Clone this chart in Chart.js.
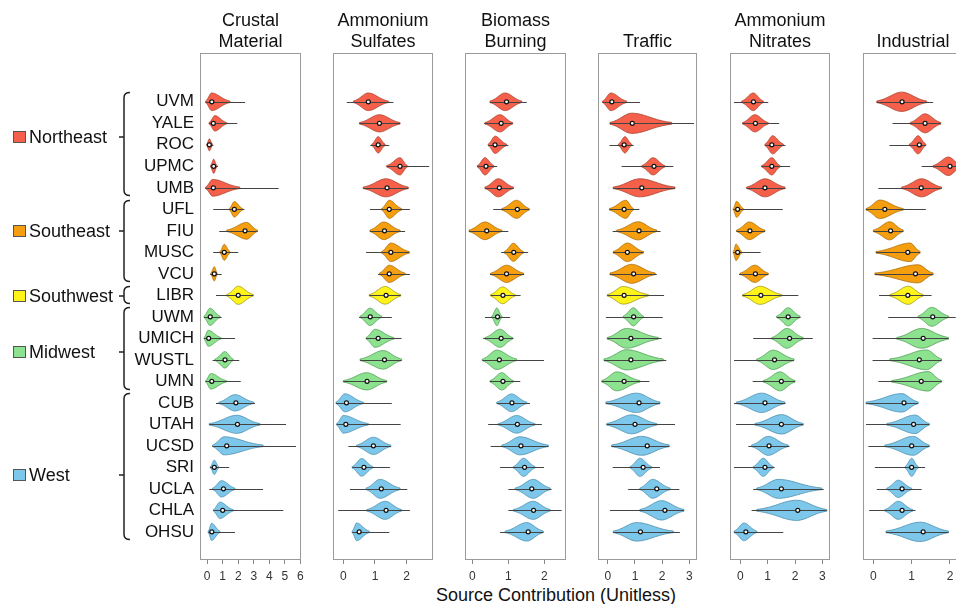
<!DOCTYPE html>
<html>
<head>
<meta charset="utf-8">
<script src="https://cdn.jsdelivr.net/npm/chart.js@4.4.1/dist/chart.umd.min.js"></script>
<style>
  body { margin: 0; width: 956px; height: 604px; overflow: hidden; background: #fff; position: relative;
         font-family: "Liberation Sans", Arial, sans-serif; }
  canvas { position: absolute; top: 0; }
  #xtitle { position: absolute; left: 356px; width: 400px; top: 585px; text-align: center;
            font-size: 18px; line-height: 20px; color: #111; }
</style>
</head>
<body>
<div id="xtitle">Source Contribution (Unitless)</div>
<script>
var sites = ["UVM", "YALE", "ROC", "UPMC", "UMB", "UFL", "FIU", "MUSC", "VCU", "LIBR", "UWM",
             "UMICH", "WUSTL", "UMN", "CUB", "UTAH", "UCSD", "SRI", "UCLA", "CHLA", "OHSU"];
var regions = ["Northeast", "Southeast", "Southwest", "Midwest", "West"];
var siteRegion = [0, 0, 0, 0, 0, 1, 1, 1, 1, 2, 3, 3, 3, 3, 4, 4, 4, 4, 4, 4, 4];
var sources = [["Crustal", "Material"], ["Ammonium", "Sulfates"], ["Biomass", "Burning"],
               ["Traffic"], ["Ammonium", "Nitrates"], ["Industrial"]];

var ticksCrustal = [0, 1, 2, 3, 4, 5, 6];
var ticksSulfates = [0, 1, 2];
var ticksBiomass = [0, 1, 2];
var ticksTraffic = [0, 1, 2, 3];
var ticksNitrates = [0, 1, 2, 3];
var ticksIndustrial = [0, 1, 2];

// each row: [tail low, body low, mode, body high, tail high, median, peak density (half width, rows)]
var crustal = [
    [-0.1, -0.1, 0.29, 1.47, 2.44, 0.3, 0.41],
    [0.12, 0.12, 0.5, 1.26, 1.94, 0.4, 0.36],
    [0.0, -0.03, 0.14, 0.35, 0.4, 0.14, 0.28],
    [0.22, 0.22, 0.42, 0.63, 0.7, 0.42, 0.33],
    [-0.1, -0.1, 0.35, 2.1, 4.6, 0.4, 0.39],
    [0.39, 1.42, 1.75, 2.29, 2.4, 1.75, 0.36],
    [0.78, 1.26, 2.55, 3.23, 3.25, 2.44, 0.39],
    [0.39, 0.82, 1.1, 1.47, 2.0, 1.1, 0.37],
    [0.2, 0.23, 0.46, 0.65, 0.93, 0.46, 0.33],
    [0.57, 1.26, 2.0, 2.97, 2.97, 2.0, 0.42],
    [-0.2, -0.2, 0.18, 0.83, 0.93, 0.2, 0.4],
    [-0.2, -0.2, 0.07, 0.9, 1.8, 0.1, 0.37],
    [0.35, 0.5, 1.15, 1.68, 2.07, 1.15, 0.38],
    [-0.1, -0.1, 0.23, 1.25, 2.16, 0.3, 0.36],
    [0.57, 0.75, 1.79, 3.0, 3.08, 1.85, 0.38],
    [0.14, 0.14, 1.9, 3.4, 5.08, 1.95, 0.42],
    [0.35, 0.35, 1.1, 3.6, 5.72, 1.26, 0.42],
    [0.18, 0.2, 0.46, 0.75, 1.42, 0.46, 0.33],
    [0.14, 0.35, 0.93, 1.79, 3.6, 1.05, 0.38],
    [0.4, 0.4, 0.82, 1.68, 4.9, 1.0, 0.38],
    [0.07, 0.07, 0.29, 0.82, 1.79, 0.3, 0.4]
];
var sulfates = [
    [0.11, 0.32, 0.79, 1.42, 1.58, 0.79, 0.41],
    [0.51, 0.51, 1.14, 1.79, 1.79, 1.14, 0.4],
    [0.85, 0.9, 1.1, 1.32, 1.45, 1.1, 0.38],
    [1.37, 1.37, 1.79, 2.02, 2.71, 1.79, 0.4],
    [0.63, 0.63, 1.35, 2.05, 2.05, 1.38, 0.42],
    [0.84, 1.21, 1.45, 1.84, 2.1, 1.45, 0.42],
    [0.84, 0.84, 1.28, 1.79, 1.95, 1.3, 0.41],
    [0.72, 1.21, 1.5, 2.08, 2.08, 1.5, 0.43],
    [1.1, 1.14, 1.45, 1.95, 2.1, 1.45, 0.4],
    [0.82, 0.82, 1.32, 1.81, 1.81, 1.35, 0.41],
    [0.5, 0.53, 0.84, 1.21, 1.53, 0.85, 0.4],
    [0.72, 0.72, 1.0, 1.6, 1.84, 1.1, 0.42],
    [0.53, 0.53, 1.26, 1.84, 1.84, 1.3, 0.43],
    [0.0, 0.0, 0.74, 1.37, 1.37, 0.75, 0.4],
    [-0.23, -0.23, 0.05, 0.63, 1.53, 0.1, 0.42],
    [-0.21, -0.21, 0.0, 0.79, 1.81, 0.08, 0.41],
    [0.16, 0.42, 0.95, 1.5, 1.5, 0.95, 0.4],
    [0.28, 0.28, 0.58, 0.93, 1.47, 0.65, 0.41],
    [0.21, 0.72, 1.16, 1.79, 2.02, 1.2, 0.44],
    [-0.16, 0.74, 1.32, 1.84, 2.1, 1.35, 0.42],
    [0.28, 0.28, 0.42, 0.82, 1.45, 0.5, 0.41]
];
var biomass = [
    [0.49, 0.49, 0.91, 1.37, 1.51, 0.95, 0.41],
    [0.33, 0.35, 0.77, 1.12, 1.12, 0.8, 0.4],
    [0.44, 0.44, 0.63, 0.95, 1.0, 0.63, 0.4],
    [0.14, 0.14, 0.35, 0.6, 0.69, 0.38, 0.4],
    [0.35, 0.35, 0.72, 1.14, 1.14, 0.75, 0.42],
    [0.58, 0.82, 1.23, 1.58, 1.58, 1.25, 0.42],
    [-0.09, -0.09, 0.35, 0.82, 1.0, 0.4, 0.41],
    [0.8, 0.89, 1.14, 1.42, 1.55, 1.15, 0.42],
    [0.49, 0.51, 0.95, 1.42, 1.44, 0.95, 0.4],
    [0.51, 0.51, 0.84, 1.19, 1.34, 0.85, 0.39],
    [0.35, 0.54, 0.68, 0.82, 1.05, 0.7, 0.41],
    [0.3, 0.35, 0.77, 1.12, 1.14, 0.8, 0.42],
    [0.28, 0.28, 0.68, 1.23, 1.99, 0.75, 0.45],
    [0.49, 0.49, 0.82, 1.14, 1.33, 0.85, 0.4],
    [0.68, 0.68, 1.09, 1.51, 1.6, 1.1, 0.41],
    [0.44, 0.72, 1.23, 1.74, 1.93, 1.25, 0.41],
    [0.51, 0.82, 1.32, 2.11, 2.11, 1.35, 0.42],
    [0.77, 1.14, 1.42, 1.74, 1.99, 1.45, 0.42],
    [1.0, 1.19, 1.69, 2.16, 2.2, 1.65, 0.44],
    [1.0, 1.14, 1.69, 2.16, 2.48, 1.7, 0.42],
    [0.77, 0.91, 1.51, 1.97, 1.97, 1.55, 0.43]
];
var traffic = [
    [-0.19, -0.19, 0.11, 0.69, 1.18, 0.15, 0.41],
    [0.08, 0.08, 0.88, 2.35, 3.17, 0.9, 0.47],
    [0.06, 0.39, 0.63, 0.88, 0.95, 0.6, 0.38],
    [0.51, 1.25, 1.67, 2.1, 2.41, 1.7, 0.4],
    [0.2, 0.2, 1.18, 2.47, 2.47, 1.25, 0.42],
    [0.06, 0.06, 0.67, 0.94, 1.16, 0.6, 0.42],
    [0.18, 0.33, 1.12, 1.8, 1.94, 1.15, 0.42],
    [0.2, 0.2, 0.72, 1.31, 1.31, 0.72, 0.43],
    [0.08, 0.08, 0.88, 1.74, 1.8, 0.95, 0.44],
    [-0.02, -0.02, 0.57, 1.49, 2.07, 0.6, 0.41],
    [-0.07, 0.57, 0.94, 1.31, 2.02, 0.95, 0.42],
    [-0.02, -0.02, 0.69, 1.86, 1.98, 0.85, 0.46],
    [-0.14, -0.14, 0.69, 2.04, 2.15, 0.85, 0.47],
    [-0.22, -0.22, 0.33, 1.18, 1.53, 0.6, 0.44],
    [-0.07, -0.07, 1.06, 1.92, 1.92, 1.15, 0.45],
    [-0.04, -0.04, 0.88, 1.8, 2.47, 1.0, 0.44],
    [0.14, 0.14, 1.25, 2.26, 2.26, 1.45, 0.44],
    [0.18, 0.82, 1.18, 1.61, 1.92, 1.3, 0.42],
    [0.75, 1.18, 1.65, 2.29, 2.63, 1.8, 0.44],
    [0.08, 1.18, 1.98, 2.8, 2.8, 2.1, 0.45],
    [0.2, 0.2, 1.06, 2.41, 2.65, 1.2, 0.43]
];
var nitrates = [
    [-0.23, 0.05, 0.47, 0.84, 1.02, 0.48, 0.41],
    [0.08, 0.08, 0.53, 1.02, 1.42, 0.55, 0.4],
    [0.9, 0.9, 1.18, 1.57, 1.65, 1.15, 0.42],
    [0.78, 0.78, 1.15, 1.45, 1.82, 1.15, 0.4],
    [0.23, 0.23, 0.9, 1.63, 1.65, 0.9, 0.42],
    [-0.26, -0.26, -0.14, 0.11, 1.55, -0.1, 0.37],
    [-0.14, -0.14, 0.33, 0.9, 0.9, 0.35, 0.41],
    [-0.26, -0.26, -0.16, 0.05, 0.74, -0.1, 0.38],
    [-0.05, -0.01, 0.53, 1.02, 1.02, 0.55, 0.4],
    [0.08, 0.08, 0.72, 1.51, 2.12, 0.75, 0.42],
    [1.33, 1.33, 1.75, 2.18, 2.2, 1.75, 0.42],
    [0.47, 1.15, 1.7, 2.3, 2.65, 1.8, 0.46],
    [-0.23, 0.6, 1.2, 1.96, 1.96, 1.25, 0.45],
    [0.45, 0.84, 1.45, 2.0, 2.0, 1.5, 0.44],
    [-0.23, -0.14, 0.78, 1.63, 1.65, 0.9, 0.45],
    [-0.16, 0.53, 1.51, 2.3, 2.3, 1.5, 0.45],
    [0.29, 0.41, 1.02, 1.75, 1.8, 1.05, 0.44],
    [-0.23, 0.47, 0.84, 1.2, 1.25, 0.9, 0.42],
    [0.47, 0.6, 1.39, 2.98, 3.05, 1.5, 0.44],
    [0.41, 0.6, 2.06, 3.16, 3.16, 2.1, 0.47],
    [-0.23, -0.23, 0.13, 0.6, 1.57, 0.2, 0.41]
];
var industrial = [
    [0.09, 0.09, 0.74, 1.39, 1.56, 0.75, 0.45],
    [0.5, 0.96, 1.35, 1.76, 1.76, 1.35, 0.44],
    [0.42, 0.94, 1.17, 1.37, 1.37, 1.2, 0.42],
    [1.26, 1.56, 1.96, 2.3, 2.35, 2.0, 0.43],
    [0.13, 0.74, 1.26, 1.78, 1.78, 1.25, 0.42],
    [-0.19, -0.19, 0.17, 0.78, 1.37, 0.3, 0.43],
    [0.0, 0.0, 0.43, 0.78, 0.78, 0.45, 0.42],
    [0.07, 0.07, 0.96, 1.22, 1.22, 0.9, 0.43],
    [0.04, 0.04, 1.17, 1.56, 1.56, 1.1, 0.42],
    [0.15, 0.43, 0.91, 1.3, 1.52, 0.9, 0.42],
    [0.39, 1.17, 1.52, 1.96, 2.15, 1.55, 0.44],
    [-0.02, 0.61, 1.26, 1.96, 1.96, 1.3, 0.46],
    [-0.02, 0.43, 1.39, 1.78, 1.78, 1.2, 0.46],
    [0.13, 0.48, 1.43, 1.78, 1.78, 1.25, 0.45],
    [-0.19, -0.19, 0.74, 1.17, 1.17, 0.8, 0.43],
    [-0.19, 0.35, 1.09, 1.46, 1.46, 1.05, 0.43],
    [-0.13, 0.3, 1.04, 1.46, 1.46, 1.0, 0.44],
    [0.04, 0.83, 1.0, 1.17, 1.35, 1.0, 0.42],
    [0.09, 0.35, 0.65, 1.0, 1.26, 0.75, 0.4],
    [-0.11, 0.3, 0.65, 1.03, 1.1, 0.75, 0.42],
    [0.33, 0.33, 1.22, 1.96, 1.96, 1.3, 0.45]
];

var panelRows = [crustal, sulfates, biomass, traffic, nitrates, industrial];
var panelTicks = [ticksCrustal, ticksSulfates, ticksBiomass, ticksTraffic, ticksNitrates, ticksIndustrial];

// layout: frame left/right in px, x axis min/max
var frames = [[200, 301, -0.46, 6.04], [333, 433, -0.325, 2.83], [465, 566, -0.203, 2.6],
              [598, 697, -0.36, 3.28], [730, 830, -0.38, 3.28], [863, 963, -0.27, 2.34]];
var labelRows = [1.64, 6.01, 9.04, 11.64, 17.37];

var fills = ["#F4604A", "#F59E0F", "#FFF31C", "#8DE290", "#7DC8EA"];
var edges = ["#A8402F", "#A86A05", "#9C9410", "#4E9B52", "#4A8CAC"];
var fontFam = '"Liberation Sans", Arial, sans-serif';

function violinPlugin(rows) {
    return {
        id: "violin",
        beforeDatasetsDraw: function (chart) {
            var ctx = chart.ctx, a = chart.chartArea, x = chart.scales.x, y = chart.scales.y;
            ctx.save();
            ctx.beginPath();
            ctx.rect(a.left, a.top, a.right - a.left, a.bottom - a.top);
            ctx.clip();
            rows.forEach(function (r, i) {
                var tLo = r[0], bLo = r[1], mode = r[2], bHi = r[3], tHi = r[4], peak = r[6];
                var g = siteRegion[i];
                var sL = Math.max(mode - bLo, 0.02) / 2.2, sR = Math.max(bHi - mode, 0.02) / 2.2;
                var vals = [];
                for (var k = 0; k <= 48; k++) vals.push(bLo + (bHi - bLo) * k / 48);
                vals.push(mode);
                vals.sort(function (p, q) { return p - q; });
                var pts = vals.map(function (v) {
                    var s = v < mode ? sL : sR;
                    return [v, peak * Math.exp(-0.5 * Math.pow((v - mode) / s, 2))];
                });
                ctx.beginPath();
                pts.forEach(function (p, k) {
                    var px = x.getPixelForValue(p[0]), py = y.getPixelForValue(i - p[1]);
                    if (k) ctx.lineTo(px, py); else ctx.moveTo(px, py);
                });
                for (var j = pts.length - 1; j >= 0; j--) {
                    ctx.lineTo(x.getPixelForValue(pts[j][0]), y.getPixelForValue(i + pts[j][1]));
                }
                ctx.closePath();
                ctx.fillStyle = fills[g];
                ctx.fill();
                ctx.strokeStyle = edges[g];
                ctx.lineWidth = 0.8;
                ctx.stroke();

                var yc = Math.round(y.getPixelForValue(i)) + 0.5;
                ctx.beginPath();
                ctx.moveTo(x.getPixelForValue(tLo), yc);
                ctx.lineTo(x.getPixelForValue(tHi), yc);
                ctx.strokeStyle = "#444";
                ctx.lineWidth = 1;
                ctx.stroke();
            });
            ctx.restore();
        }
    };
}

function framePlugin(title) {
    return {
        id: "frame",
        afterDraw: function (chart) {
            var ctx = chart.ctx, a = chart.chartArea;
            ctx.save();
            ctx.strokeStyle = "#9a9a9a";
            ctx.lineWidth = 1;
            ctx.strokeRect(Math.round(a.left) + 0.5, Math.round(a.top) + 0.5,
                Math.round(a.right - a.left) - 1, Math.round(a.bottom - a.top) - 1);
            ctx.fillStyle = "#111";
            ctx.font = "18px " + fontFam;
            ctx.textAlign = "center";
            ctx.textBaseline = "middle";
            var cx = (a.left + a.right) / 2;
            title.forEach(function (t, k) {
                ctx.fillText(t, cx, a.top - 11 - (title.length - 1 - k) * 21);
            });
            ctx.restore();
        }
    };
}

var regionPlugin = {
    id: "regions",
    afterDraw: function (chart) {
        var ctx = chart.ctx, y = chart.scales.y;
        ctx.save();
        ctx.font = "18px " + fontFam;
        ctx.textBaseline = "middle";
        ctx.textAlign = "left";
        regions.forEach(function (name, g) {
            var idx = [];
            siteRegion.forEach(function (r, i) { if (r === g) idx.push(i); });
            var top = Math.round(y.getPixelForValue(idx[0] - 0.45)) + 0.5;
            var bot = Math.round(y.getPixelForValue(idx[idx.length - 1] + 0.35)) + 0.5;
            var ly = Math.round(y.getPixelForValue(labelRows[g]));
            ctx.strokeStyle = "#222";
            ctx.lineWidth = 1.5;
            ctx.beginPath();
            ctx.moveTo(130, top);
            ctx.quadraticCurveTo(124, top, 124, top + 5);
            ctx.lineTo(124, bot - 5);
            ctx.quadraticCurveTo(124, bot, 130, bot);
            ctx.moveTo(124, ly);
            ctx.lineTo(119, ly);
            ctx.stroke();

            ctx.fillStyle = fills[g];
            ctx.fillRect(13, ly - 6, 13, 12);
            ctx.strokeStyle = "#555";
            ctx.lineWidth = 1;
            ctx.strokeRect(13.5, ly - 5.5, 12, 11);
            ctx.fillStyle = "#111";
            ctx.fillText(name, 29, ly + 1);
        });
        ctx.restore();
    }
};

function makePanel(p) {
    var f = frames[p];
    var first = p === 0;
    var left = first ? 0 : f[0] - 10;
    var width = f[1] + 10 - left;
    var canvas = document.createElement("canvas");
    canvas.width = width;
    canvas.height = 604;
    canvas.style.left = left + "px";
    canvas.style.width = width + "px";
    canvas.style.height = "604px";
    document.body.appendChild(canvas);
    var rows = panelRows[p];

    var yAxis = {
        type: "linear",
        reverse: true,
        min: -2.27,
        max: 21.31,
        display: first,
        grid: { display: false, drawTicks: false },
        border: { display: false },
        ticks: { autoSkip: false, padding: 6, color: "#111", font: { family: fontFam, size: 17 },
                 callback: function (v) { return sites[v]; } }
    };
    if (first) {
        yAxis.afterBuildTicks = function (s) { s.ticks = sites.map(function (n, i) { return { value: i }; }); };
        yAxis.afterFit = function (s) { s.width = 200; };
    }

    return new Chart(canvas, {
        type: "scatter",
        data: {
            datasets: [{
                data: rows.map(function (r, i) { return { x: r[5], y: i }; }),
                pointRadius: 2,
                pointBackgroundColor: "#fff",
                pointBorderColor: "#111",
                pointBorderWidth: 1.2
            }]
        },
        options: {
            responsive: false,
            animation: false,
            layout: { padding: { left: first ? 0 : 10, right: 10, top: 53, bottom: 14 } },
            plugins: { legend: { display: false }, tooltip: { enabled: false } },
            scales: {
                x: {
                    type: "linear",
                    min: f[2],
                    max: f[3],
                    afterBuildTicks: function (s) { s.ticks = panelTicks[p].map(function (v) { return { value: v }; }); },
                    afterFit: function (s) { s.height = 30; },
                    grid: { drawOnChartArea: false, tickLength: 4, color: "#888" },
                    border: { display: false },
                    ticks: { autoSkip: false, maxRotation: 0, padding: 5, color: "#333",
                             font: { family: fontFam, size: 12 } }
                },
                y: yAxis
            }
        },
        plugins: [violinPlugin(rows), framePlugin(sources[p])].concat(first ? [regionPlugin] : [])
    });
}

for (var p = 0; p < 6; p++) makePanel(p);
</script>
</body>
</html>
